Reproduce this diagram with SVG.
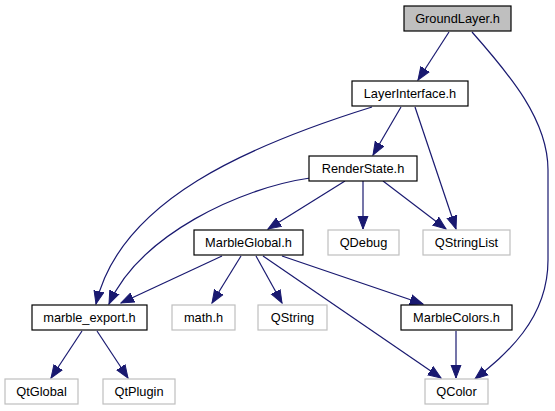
<svg xmlns="http://www.w3.org/2000/svg" width="555" height="411" viewBox="0 0 555 411">
<style>
  .n rect { fill: #ffffff; stroke: #000000; stroke-width: 1.2; }
  .g rect { fill: #ffffff; stroke: #bfbfbf; stroke-width: 1.2; }
  text { font-family: "Liberation Sans", Arial, sans-serif; font-size: 12.8px; text-anchor: middle; fill: #000000; }
  .e path { fill: none; stroke: #191970; stroke-width: 1.2; marker-end: url(#ah); }
</style>
<defs>
  <marker id="ah" markerUnits="userSpaceOnUse" markerWidth="14" markerHeight="12" viewBox="0 0 14 12" refX="13" refY="6" orient="auto">
    <path d="M0,1 L13,6 L0,11 Z" fill="#191970" stroke="#191970"/>
  </marker>
</defs>
<g class="e" id="connectors">
  <path d="M449,32 L418,80"/>
  <path d="M472,32 C510,75 548,120 548,170 L548,260 C548,320 505,355 475,379"/>
  <path d="M372,107 C250,145 120,200 96,304"/>
  <path d="M401,107 L373,155"/>
  <path d="M415,107 L456,229"/>
  <path d="M310,178 C240,188 140,235 109,304"/>
  <path d="M345,181 L268,229"/>
  <path d="M363,181 L363,229"/>
  <path d="M383,181 L446,229"/>
  <path d="M222,256 L121,303"/>
  <path d="M241,256 L212,303"/>
  <path d="M256,256 L282,303"/>
  <path d="M263,256 L441,378"/>
  <path d="M282,256 L423,304"/>
  <path d="M456,331 L456,378"/>
  <path d="M82,331 L51,378"/>
  <path d="M97,331 L128,378"/>
</g>
<g id="GroundLayer" class="n"><rect x="404" y="6" width="107" height="25" style="fill:#bfbfbf"/><text x="457.5" y="23">GroundLayer.h</text></g>
<g id="LayerInterface" class="n"><rect x="352" y="81" width="116" height="25"/><text x="410" y="98">LayerInterface.h</text></g>
<g id="RenderState" class="n"><rect x="309" y="156" width="108" height="25"/><text x="363" y="173">RenderState.h</text></g>
<g id="QDebug" class="g"><rect x="328" y="230" width="71" height="25"/><text x="363.5" y="247">QDebug</text></g>
<g id="QStringList" class="g"><rect x="423" y="230" width="87" height="25"/><text x="466.5" y="247">QStringList</text></g>
<g id="MarbleGlobal" class="n"><rect x="194" y="230" width="109" height="25"/><text x="248.5" y="247">MarbleGlobal.h</text></g>
<g id="marble_export" class="n"><rect x="32" y="305" width="115" height="25"/><text x="89.5" y="322">marble_export.h</text></g>
<g id="math" class="g"><rect x="172" y="305" width="63" height="25"/><text x="203.5" y="322">math.h</text></g>
<g id="QString" class="g"><rect x="258" y="305" width="69" height="25"/><text x="292.5" y="322">QString</text></g>
<g id="MarbleColors" class="n"><rect x="401" y="305" width="111" height="25"/><text x="456.5" y="322">MarbleColors.h</text></g>
<g id="QColor" class="g"><rect x="425" y="379" width="63" height="25"/><text x="456.5" y="396">QColor</text></g>
<g id="QtGlobal" class="g"><rect x="5" y="379" width="73" height="25"/><text x="41.5" y="396">QtGlobal</text></g>
<g id="QtPlugin" class="g"><rect x="103" y="379" width="72" height="25"/><text x="139" y="396">QtPlugin</text></g>
</svg>
